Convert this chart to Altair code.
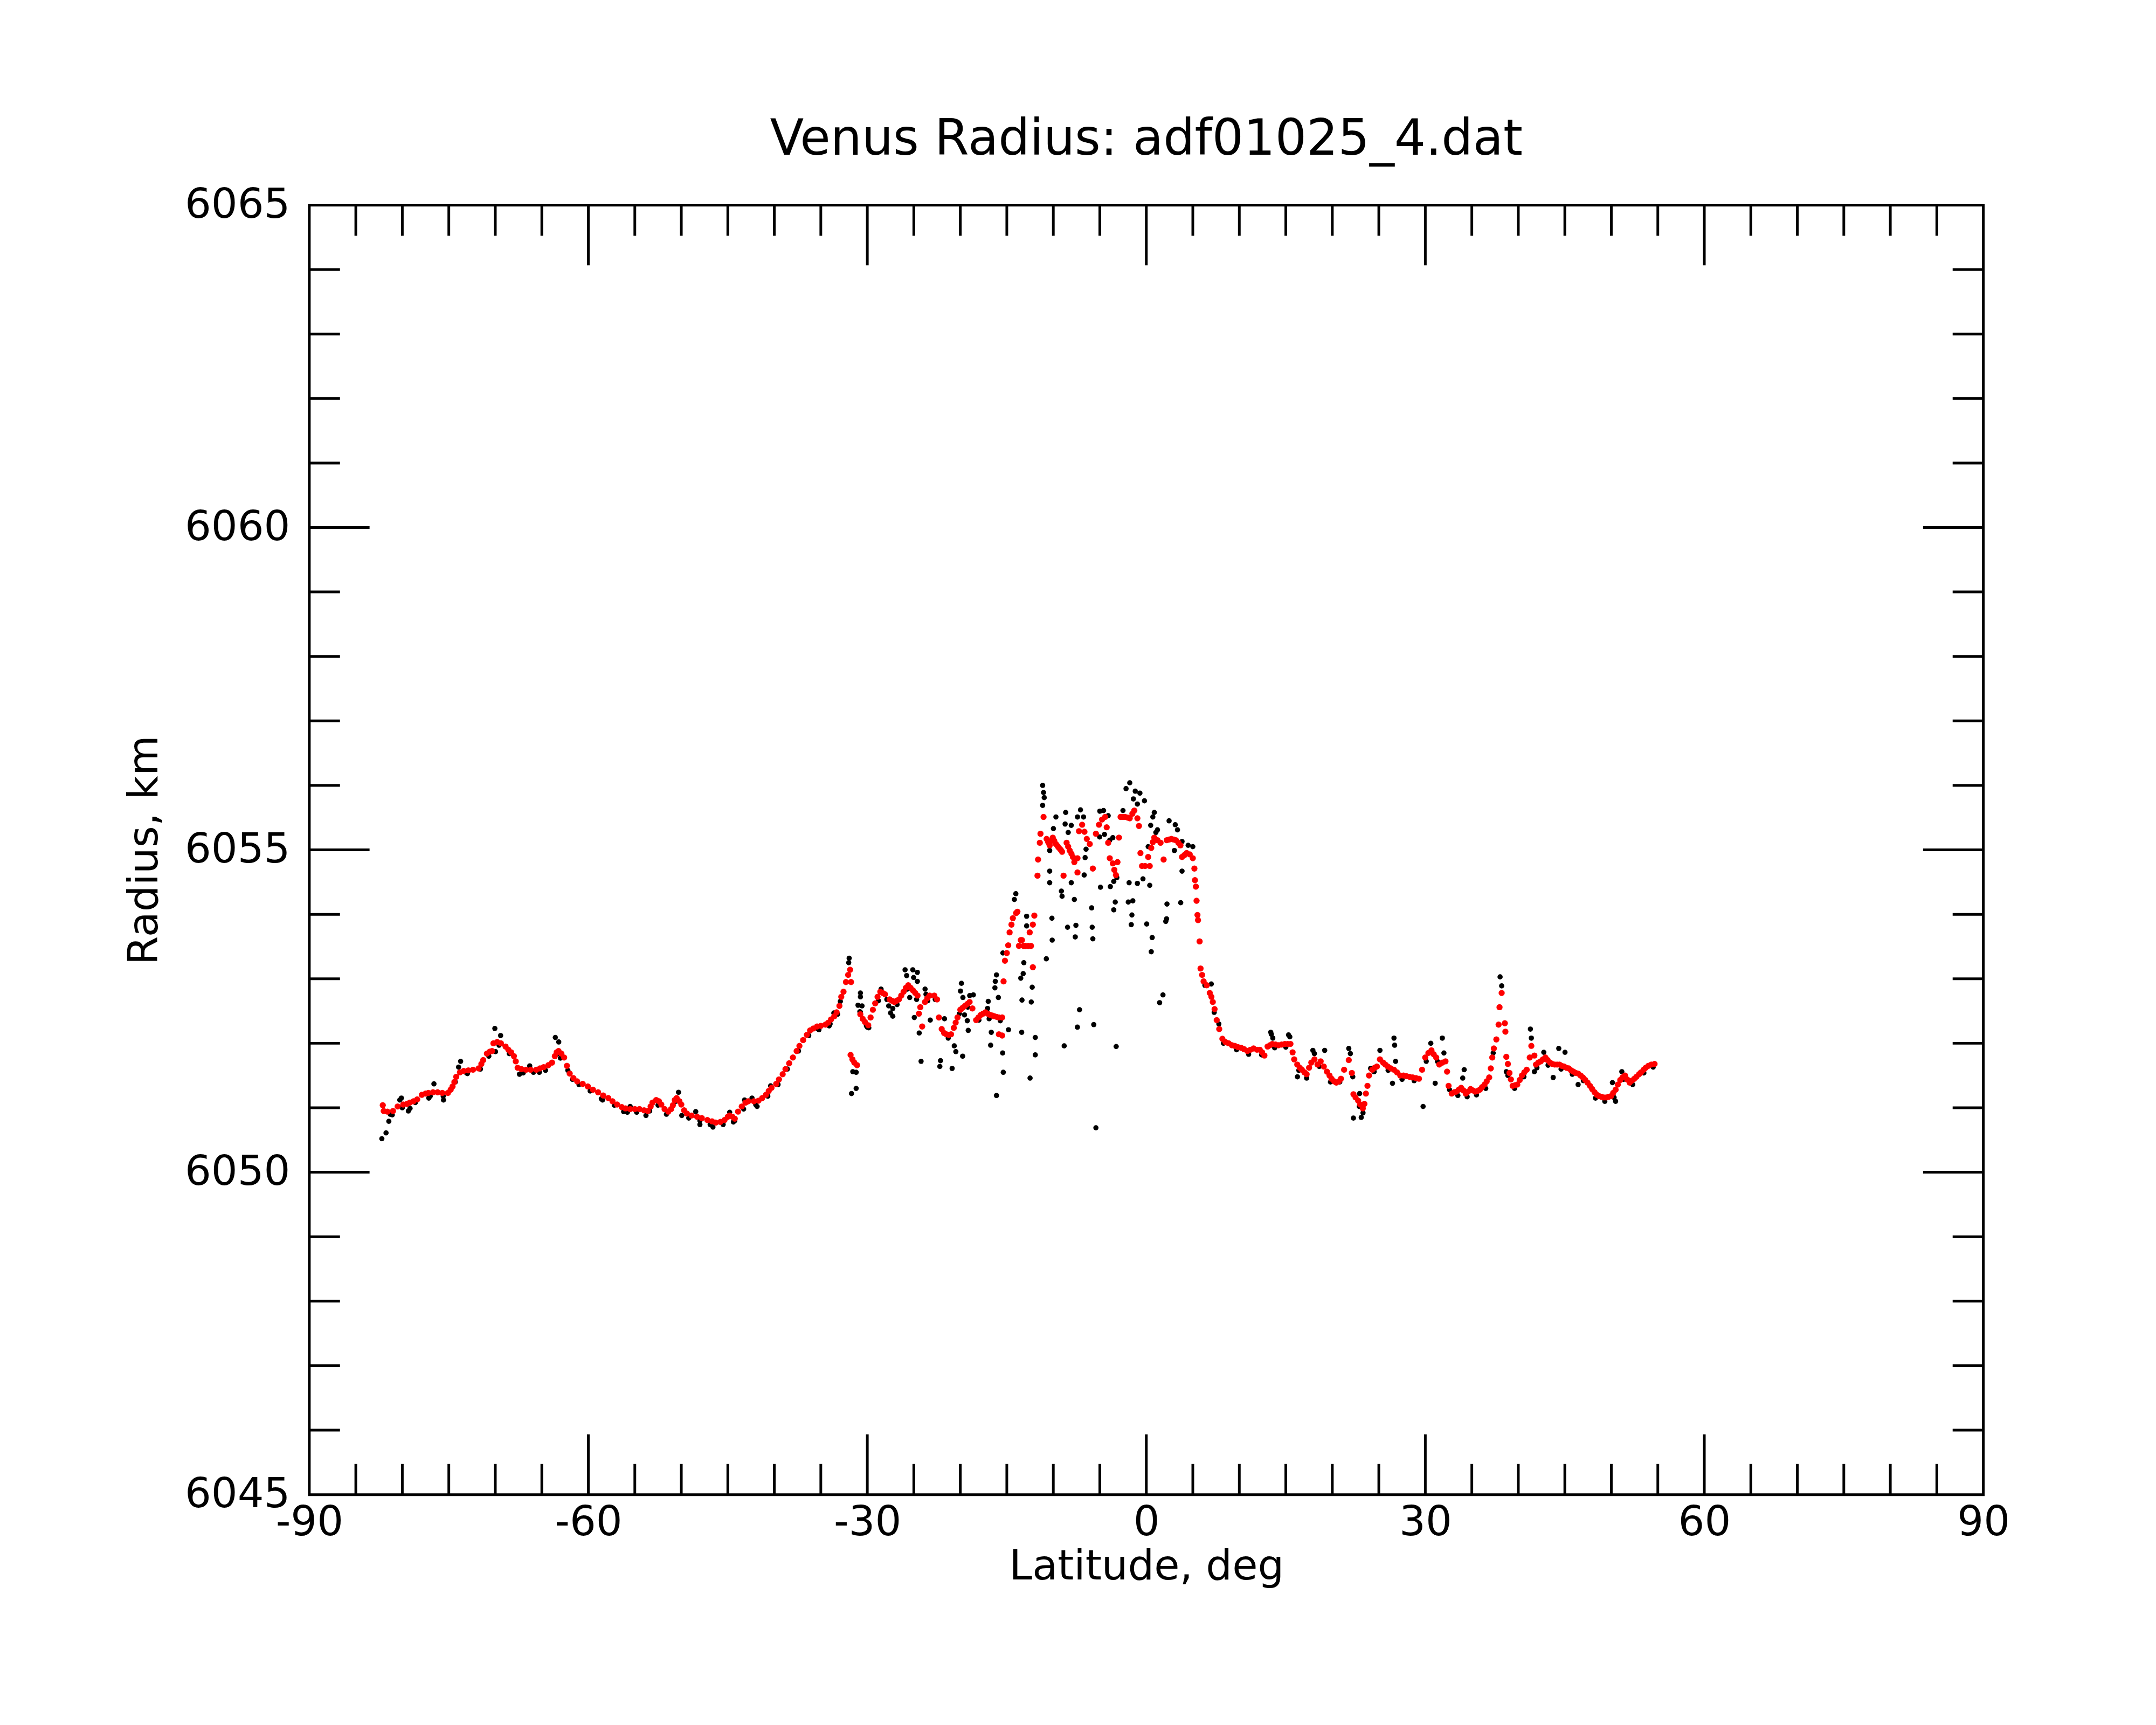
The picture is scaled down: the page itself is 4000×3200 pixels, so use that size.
import altair as alt
import pandas as pd

# ---------------- data ----------------
# filtered radius (red), latitude in deg, radius in km
red_south = [
    (-82.1, 6051.04), (-82.0, 6050.95), (-81.6, 6050.94), (-81.0, 6050.95), (-80.5, 6051.02),
    (-79.9, 6051.05), (-79.5, 6051.06), (-79.2, 6051.08), (-78.8, 6051.10), (-78.4, 6051.13),
    (-77.9, 6051.20), (-77.5, 6051.22), (-77.2, 6051.23), (-76.7, 6051.24), (-76.2, 6051.24),
    (-75.7, 6051.23), (-75.1, 6051.23), (-74.8, 6051.28), (-74.6, 6051.33), (-74.4, 6051.40),
    (-74.2, 6051.48), (-73.8, 6051.55), (-73.4, 6051.57), (-72.9, 6051.58), (-72.4, 6051.59),
    (-71.8, 6051.61), (-71.5, 6051.68), (-71.3, 6051.74), (-70.9, 6051.84), (-70.6, 6051.87),
    (-70.35, 6051.88), (-70.2, 6052.00), (-69.8, 6052.02), (-69.4, 6052.00), (-68.9, 6051.95),
    (-68.6, 6051.90), (-68.3, 6051.86), (-68.0, 6051.80), (-67.8, 6051.72), (-67.6, 6051.62),
    (-67.2, 6051.60), (-66.7, 6051.59), (-66.2, 6051.59), (-65.6, 6051.59), (-65.2, 6051.61),
    (-64.8, 6051.63), (-64.3, 6051.66), (-63.9, 6051.70), (-63.6, 6051.80), (-63.4, 6051.86),
    (-63.2, 6051.88), (-62.9, 6051.84), (-62.6, 6051.78), (-62.3, 6051.65), (-62.0, 6051.53),
    (-61.6, 6051.46), (-61.2, 6051.41), (-60.6, 6051.37), (-60.05, 6051.33), (-59.5, 6051.28),
    (-58.95, 6051.24), (-58.4, 6051.19), (-57.85, 6051.15), (-57.4, 6051.10), (-56.9, 6051.05),
    (-56.4, 6051.01), (-56.0, 6050.99), (-55.5, 6050.98), (-55.0, 6050.98), (-54.5, 6050.98),
    (-54.0, 6050.96), (-53.6, 6050.95), (-53.3, 6051.02), (-53.1, 6051.08), (-52.7, 6051.12),
    (-52.4, 6051.10), (-52.15, 6051.05), (-51.8, 6050.98), (-51.4, 6050.94), (-51.1, 6050.98),
    (-50.9, 6051.04), (-50.7, 6051.12), (-50.5, 6051.15), (-50.2, 6051.10), (-50.0, 6051.05),
    (-49.7, 6050.96), (-49.4, 6050.91), (-48.9, 6050.88), (-48.3, 6050.86), (-47.8, 6050.84),
    (-47.2, 6050.81), (-46.7, 6050.79), (-46.3, 6050.77), (-45.8, 6050.78), (-45.35, 6050.81),
    (-45.0, 6050.86), (-44.8, 6050.88), (-44.5, 6050.86), (-44.25, 6050.83), (-43.9, 6050.94),
    (-43.5, 6051.02), (-43.1, 6051.08), (-42.8, 6051.10), (-42.2, 6051.10), (-41.7, 6051.11),
    (-41.3, 6051.15), (-40.9, 6051.20), (-40.6, 6051.26), (-40.3, 6051.31), (-39.8, 6051.37),
    (-39.5, 6051.44), (-39.1, 6051.52), (-38.8, 6051.60), (-38.4, 6051.69), (-38.0, 6051.78),
    (-37.6, 6051.88), (-37.3, 6051.96), (-36.9, 6052.05), (-36.5, 6052.13), (-36.15, 6052.20),
    (-35.8, 6052.23), (-35.4, 6052.26), (-35.0, 6052.27), (-34.5, 6052.29), (-34.2, 6052.32),
    (-33.9, 6052.37), (-33.55, 6052.42), (-33.3, 6052.48), (-33.0, 6052.58), (-32.8, 6052.72),
    (-32.56, 6052.80), (-32.3, 6052.95), (-32.06, 6053.06), (-31.85, 6053.14), (-31.75, 6052.95),
    (-31.8, 6051.82), (-31.6, 6051.75), (-31.4, 6051.70), (-31.1, 6051.66),
]

red_equator = [
    (-30.75, 6052.45), (-30.5, 6052.38), (-30.25, 6052.33), (-29.9, 6052.28), (-29.65, 6052.40),
    (-29.4, 6052.52), (-29.15, 6052.62), (-28.9, 6052.72), (-28.6, 6052.80), (-28.35, 6052.78),
    (-28.1, 6052.76), (-27.6, 6052.68), (-27.35, 6052.66), (-27.1, 6052.64), (-26.85, 6052.66),
    (-26.6, 6052.68), (-26.35, 6052.74), (-26.1, 6052.80), (-25.85, 6052.86), (-25.6, 6052.90),
    (-25.35, 6052.86), (-25.1, 6052.82), (-24.85, 6052.78), (-24.6, 6052.74), (-24.45, 6052.46),
    (-24.3, 6052.56), (-24.1, 6052.26), (-23.8, 6052.64), (-23.55, 6052.70), (-23.3, 6052.74),
    (-22.8, 6052.74), (-22.5, 6052.68), (-22.3, 6052.40), (-22.0, 6052.22), (-21.75, 6052.16),
    (-21.5, 6052.14), (-21.25, 6052.13), (-21.0, 6052.14), (-20.7, 6052.24), (-20.5, 6052.32),
    (-20.3, 6052.40), (-20.0, 6052.52), (-19.75, 6052.55), (-19.5, 6052.58), (-19.25, 6052.61),
    (-19.0, 6052.64), (-18.7, 6052.54), (-18.3, 6052.36), (-18.05, 6052.40), (-17.8, 6052.44),
    (-17.55, 6052.46), (-17.3, 6052.48), (-17.05, 6052.46), (-16.8, 6052.44), (-16.55, 6052.43),
    (-16.35, 6052.42), (-16.1, 6052.41), (-15.85, 6052.40), (-15.5, 6052.40), (-15.85, 6052.14),
    (-15.5, 6052.12), (-15.35, 6052.96), (-15.2, 6053.28), (-15.0, 6053.40), (-14.85, 6053.52),
    (-14.7, 6053.72), (-14.5, 6053.84), (-14.35, 6053.94), (-14.0, 6054.02), (-13.86, 6054.04),
    (-13.7, 6053.51), (-13.5, 6053.60), (-13.37, 6053.60), (-13.2, 6053.51), (-13.0, 6053.51),
    (-12.7, 6053.51), (-12.54, 6053.72), (-12.4, 6053.51), (-12.2, 6053.84), (-12.04, 6053.98),
    (-12.2, 6053.18), (-11.7, 6054.60), (-11.64, 6054.85), (-11.45, 6055.11), (-11.38, 6055.25),
    (-11.05, 6055.51), (-10.72, 6055.17), (-10.55, 6055.12), (-10.39, 6055.07), (-10.2, 6055.14),
    (-10.06, 6055.19), (-9.9, 6055.14), (-9.72, 6055.09), (-9.55, 6055.06), (-9.39, 6055.03),
    (-9.2, 6055.00), (-9.06, 6054.97), (-8.9, 6054.60), (-8.57, 6055.11), (-8.4, 6055.05),
    (-8.24, 6054.99), (-8.05, 6054.94), (-7.9, 6054.89), (-7.74, 6054.81), (-7.4, 6054.65),
    (-7.4, 6054.87), (-7.24, 6055.29), (-6.9, 6055.39), (-6.65, 6055.28), (-6.4, 6055.17),
    (-6.08, 6055.09), (-5.75, 6054.71), (-5.42, 6055.25), (-5.09, 6055.39), (-4.76, 6055.47),
    (-4.43, 6055.51), (-4.26, 6055.35), (-4.1, 6055.11), (-3.93, 6054.87), (-3.6, 6054.79),
    (-3.44, 6054.69), (-3.27, 6054.61), (-3.1, 6054.81), (-2.94, 6055.19), (-2.77, 6055.51),
    (-2.5, 6055.51), (-2.28, 6055.51), (-2.0, 6055.50), (-1.78, 6055.49), (-1.5, 6055.56),
    (-1.29, 6055.61), (-0.96, 6055.49), (-0.79, 6055.37), (-0.63, 6054.95), (-0.46, 6054.75),
    (-0.13, 6054.75), (0.2, 6054.89), (0.37, 6054.75), (0.53, 6055.03), (0.7, 6055.12),
    (0.86, 6055.19), (1.2, 6055.15), (1.53, 6055.11), (1.86, 6054.85), (2.2, 6055.15),
    (2.45, 6055.16), (2.68, 6055.17), (2.95, 6055.16), (3.18, 6055.15), (3.45, 6055.11),
    (3.67, 6055.07), (3.84, 6054.89), (4.1, 6054.92), (4.34, 6054.95), (4.67, 6054.93),
    (5.0, 6054.87), (5.17, 6054.71), (5.23, 6054.53), (5.33, 6054.43), (5.4, 6054.21),
    (5.5, 6053.99), (5.56, 6053.91), (5.73, 6053.58), (5.83, 6053.16), (6.0, 6053.06),
    (6.16, 6052.96),
]

red_north = [
    (6.5, 6052.90), (6.82, 6052.78), (7.0, 6052.72), (7.15, 6052.64), (7.34, 6052.53),
    (7.57, 6052.36), (7.84, 6052.22), (8.18, 6052.07), (8.5, 6052.02), (8.85, 6052.00),
    (9.2, 6051.97), (9.52, 6051.96), (9.85, 6051.94), (10.19, 6051.93), (10.5, 6051.91),
    (10.86, 6051.88), (11.2, 6051.90), (11.53, 6051.92), (11.9, 6051.90), (12.2, 6051.90),
    (12.45, 6051.86), (12.7, 6051.81), (13.04, 6051.95), (13.3, 6051.97), (13.55, 6051.99),
    (13.9, 6051.98), (14.22, 6051.97), (14.55, 6051.98), (14.9, 6051.99), (15.2, 6051.99),
    (15.5, 6051.99), (15.73, 6051.86), (15.9, 6051.75), (16.23, 6051.67), (16.5, 6051.62),
    (16.73, 6051.59), (17.0, 6051.55), (17.24, 6051.52), (17.5, 6051.62), (17.74, 6051.70),
    (18.08, 6051.75), (18.41, 6051.67), (18.75, 6051.72), (19.08, 6051.64), (19.42, 6051.56),
    (19.7, 6051.50), (19.92, 6051.45), (20.2, 6051.41), (20.43, 6051.39), (20.7, 6051.41),
    (20.93, 6051.45), (21.27, 6051.59), (21.77, 6051.74), (22.1, 6051.54), (22.27, 6051.21),
    (22.5, 6051.16), (22.78, 6051.11), (23.0, 6051.05), (23.28, 6050.99), (23.45, 6051.06),
    (23.61, 6051.22), (23.78, 6051.34), (23.95, 6051.50), (24.29, 6051.59), (24.55, 6051.62),
    (24.79, 6051.64), (25.12, 6051.75), (25.46, 6051.70), (25.7, 6051.67), (25.96, 6051.64),
    (26.3, 6051.61), (26.63, 6051.59), (26.95, 6051.55), (27.31, 6051.50), (27.65, 6051.50),
    (27.98, 6051.49), (28.3, 6051.48), (28.65, 6051.47), (29.0, 6051.46), (29.32, 6051.45),
    (29.65, 6051.59), (29.99, 6051.78), (30.33, 6051.85), (30.66, 6051.89), (30.9, 6051.83),
    (31.17, 6051.78), (31.5, 6051.67), (31.83, 6051.70), (32.17, 6051.72), (32.34, 6051.56),
    (32.5, 6051.34), (32.84, 6051.22), (33.1, 6051.24), (33.34, 6051.25), (33.6, 6051.28),
    (33.85, 6051.31), (34.1, 6051.27), (34.35, 6051.22), (34.6, 6051.25), (34.86, 6051.29),
    (35.1, 6051.27), (35.36, 6051.25), (35.6, 6051.26), (35.86, 6051.28), (36.1, 6051.32),
    (36.37, 6051.36), (36.6, 6051.41), (36.87, 6051.47), (37.04, 6051.61), (37.2, 6051.78),
    (37.37, 6051.92), (37.64, 6052.06), (37.88, 6052.29), (37.98, 6052.56), (38.21, 6052.78),
    (38.55, 6052.31), (38.61, 6052.18), (38.71, 6051.79), (38.88, 6051.68), (39.05, 6051.54),
    (39.2, 6051.44), (39.39, 6051.34), (39.65, 6051.35), (39.89, 6051.36), (40.15, 6051.43),
    (40.39, 6051.50), (40.65, 6051.55), (40.9, 6051.59), (41.23, 6051.78), (41.4, 6051.96),
    (41.73, 6051.81), (41.9, 6051.67), (42.15, 6051.70), (42.41, 6051.72), (42.65, 6051.75),
    (42.91, 6051.78), (43.15, 6051.74), (43.41, 6051.70), (43.65, 6051.68), (43.92, 6051.67),
    (44.17, 6051.67), (44.42, 6051.67), (44.67, 6051.65), (44.92, 6051.64), (45.17, 6051.62),
    (45.43, 6051.61), (45.68, 6051.58), (45.93, 6051.56), (46.18, 6051.54), (46.43, 6051.53),
    (46.7, 6051.50), (46.94, 6051.47), (47.2, 6051.43), (47.44, 6051.39), (47.7, 6051.34),
    (47.94, 6051.29), (48.2, 6051.24), (48.45, 6051.20), (48.7, 6051.18), (48.95, 6051.17),
    (49.2, 6051.16), (49.45, 6051.16), (49.7, 6051.17), (49.96, 6051.18), (50.2, 6051.23),
    (50.46, 6051.28), (50.7, 6051.36), (50.96, 6051.43), (51.2, 6051.47), (51.47, 6051.50),
    (51.7, 6051.44), (51.97, 6051.39), (52.2, 6051.42), (52.47, 6051.45), (52.7, 6051.48),
    (52.98, 6051.52), (53.2, 6051.55), (53.48, 6051.59), (53.7, 6051.62), (53.98, 6051.65),
    (54.3, 6051.67), (54.65, 6051.68),
]

# raw radius (black): points showing under the red track
black_track = [
    (-81.3, 6050.90), (-80.0, 6051.00), (-78.6, 6051.08), (-77.0, 6051.18), (-75.6, 6051.18),
    (-74.3, 6051.40), (-73.0, 6051.53), (-71.6, 6051.60), (-70.7, 6051.80), (-69.6, 6051.97),
    (-68.5, 6051.84), (-67.0, 6051.54), (-65.9, 6051.55), (-64.6, 6051.58), (-63.3, 6051.84),
    (-62.2, 6051.58), (-61.0, 6051.36), (-59.8, 6051.26), (-58.6, 6051.14), (-57.2, 6051.04),
    (-55.8, 6050.93), (-54.8, 6050.93), (-53.4, 6050.95), (-52.5, 6051.04), (-51.6, 6050.90),
    (-50.6, 6051.10), (-49.2, 6050.84), (-48.0, 6050.80), (-46.9, 6050.74), (-45.5, 6050.74),
    (-44.4, 6050.78), (-43.3, 6050.98), (-42.0, 6051.05), (-40.7, 6051.18), (-39.6, 6051.36),
    (-38.6, 6051.60), (-37.4, 6051.88), (-36.3, 6052.12), (-35.2, 6052.21), (-34.0, 6052.30),
    (-33.2, 6052.45), (-32.9, 6052.65), (-32.0, 6053.25), (-31.95, 6053.32), (-30.0, 6052.25),
    (-28.8, 6052.66), (-27.9, 6052.68), (-26.8, 6052.60), (-25.7, 6052.84), (-24.7, 6052.68),
    (-23.5, 6052.66), (-22.7, 6052.68), (-21.3, 6052.08), (-20.1, 6052.46), (-19.2, 6052.56),
    (-18.0, 6052.36), (-16.9, 6052.38), (-15.7, 6052.35), (6.3, 6052.90), (7.3, 6052.48),
    (8.3, 6052.00), (9.7, 6051.90), (11.0, 6051.83), (12.4, 6051.82), (13.8, 6051.93),
    (15.0, 6051.94), (16.4, 6051.58), (18.6, 6051.64), (19.8, 6051.40), (20.8, 6051.40),
    (22.2, 6051.48), (22.9, 6051.02), (23.3, 6050.92), (24.5, 6051.56), (26.0, 6051.58),
    (27.5, 6051.44), (28.8, 6051.42), (30.1, 6051.72), (31.3, 6051.72), (32.6, 6051.28),
    (33.5, 6051.19), (34.5, 6051.17), (35.5, 6051.20), (36.5, 6051.30), (37.3, 6051.85),
    (39.6, 6051.30), (40.6, 6051.48), (42.0, 6051.62), (43.2, 6051.66), (44.6, 6051.60),
    (45.8, 6051.52), (47.0, 6051.42), (48.3, 6051.15), (49.3, 6051.10), (50.3, 6051.16),
    (51.3, 6051.44), (52.3, 6051.36), (53.5, 6051.54), (54.5, 6051.63),
]

# raw radius (black): scattered points away from the red track
black_scatter = [
    (-82.2, 6050.52), (-81.75, 6050.61), (-81.45, 6050.79), (-81.08, 6050.89), (-80.27, 6051.12),
    (-80.1, 6051.15), (-79.35, 6050.95), (-79.17, 6050.99), (-76.6, 6051.37), (-77.15, 6051.15),
    (-75.57, 6051.12), (-73.73, 6051.72), (-73.95, 6051.63), (-73.1, 6051.54), (-70.05, 6052.23),
    (-69.43, 6052.12), (-69.98, 6051.87), (-67.4, 6051.52), (-66.3, 6051.65), (-65.27, 6051.55),
    (-63.55, 6052.09), (-63.18, 6052.02), (-63.0, 6051.77), (-61.7, 6051.44), (-58.47, 6051.12),
    (-56.2, 6050.94), (-55.5, 6051.02), (-53.8, 6050.88), (-50.3, 6051.24), (-49.95, 6050.88),
    (-48.45, 6050.94), (-48.0, 6050.74), (-46.6, 6050.70), (-44.8, 6050.93), (-44.25, 6050.80),
    (-43.2, 6051.12), (-42.4, 6051.15), (-41.85, 6051.02), (-40.4, 6051.34), (-35.35, 6052.23),
    (-34.1, 6052.27), (-33.6, 6052.47), (-31.56, 6051.56), (-31.2, 6051.55), (-31.7, 6051.22),
    (-31.2, 6051.30), (-31.0, 6052.59), (-30.8, 6052.49), (-30.1, 6052.27), (-27.7, 6052.58),
    (-27.5, 6052.47),
    (-11.15, 6056.00), (-11.05, 6055.89), (-10.98, 6055.81), (-11.15, 6055.69), (-9.72, 6055.51),
    (-8.67, 6055.58), (-7.08, 6055.62), (-8.73, 6055.40), (-8.07, 6055.38), (-9.99, 6055.33),
    (-8.40, 6055.27), (-7.40, 6055.51), (-6.75, 6055.51), (-5.00, 6055.60), (-4.60, 6055.61),
    (-4.10, 6055.53), (-2.18, 6055.95), (-1.78, 6056.04), (-1.19, 6055.91), (-0.69, 6055.88),
    (-1.39, 6055.79), (-0.20, 6055.76), (-0.96, 6055.71), (-2.51, 6055.61), (0.86, 6055.58),
    (0.70, 6055.51), (0.47, 6055.38), (2.45, 6055.45), (3.11, 6055.39), (3.35, 6055.31),
    (1.20, 6055.31), (0.20, 6055.05), (1.03, 6055.27), (3.84, 6055.13), (4.50, 6055.07),
    (5.00, 6055.05), (-6.48, 6055.01), (-6.58, 6054.88), (-5.02, 6055.20), (-4.50, 6055.24),
    (-3.60, 6055.19), (-3.93, 6055.15), (-10.39, 6054.99), (3.02, 6054.99), (3.84, 6054.67),
    (-10.39, 6054.67), (-6.68, 6054.61), (-10.39, 6054.49), (-8.07, 6054.49), (-4.93, 6054.42),
    (-3.87, 6054.43), (-3.50, 6054.51), (-3.17, 6054.57), (-1.85, 6054.49), (-0.96, 6054.48),
    (-0.36, 6054.55), (0.37, 6054.45), (-9.13, 6054.36), (-9.06, 6054.28), (-7.74, 6054.23),
    (-5.88, 6054.10), (-3.34, 6054.19), (-1.94, 6054.19), (-1.45, 6054.21), (2.22, 6054.16),
    (3.70, 6054.18), (-1.55, 6053.99), (5.43, 6054.21), (-10.15, 6053.94), (-3.50, 6054.07),
    (2.18, 6053.93), (2.09, 6053.89), (-8.47, 6053.80), (-7.57, 6053.83), (-5.82, 6053.80),
    (-1.62, 6053.84), (0.04, 6053.85), (-10.12, 6053.60), (-7.64, 6053.65), (-5.75, 6053.62),
    (0.63, 6053.64), (0.53, 6053.42), (-10.75, 6053.31), (-13.17, 6053.25), (-13.24, 6053.08),
    (-13.50, 6053.01), (-14.03, 6054.32), (-14.19, 6054.23), (-15.42, 6053.40), (-16.11, 6053.06),
    (-16.24, 6052.96), (-16.28, 6052.86), (-15.91, 6052.71), (-13.37, 6052.67), (-12.37, 6052.64),
    (-12.27, 6052.87), (-12.87, 6053.97), (-12.87, 6053.82), (1.79, 6052.75), (1.43, 6052.63),
    (-7.18, 6052.52), (-7.41, 6052.25), (-5.65, 6052.29), (-8.83, 6051.96), (-3.24, 6051.95),
    (-5.42, 6050.69), (-16.11, 6051.19), (-15.38, 6051.55), (-15.45, 6051.85), (-12.50, 6051.46),
    (-11.94, 6051.82), (-11.94, 6052.09), (-13.40, 6052.17), (-14.82, 6052.21), (-16.67, 6052.17),
    (-16.74, 6051.97), (-19.75, 6051.80), (-20.65, 6051.96), (-20.48, 6051.87), (-20.88, 6051.61),
    (-22.13, 6051.73), (-22.20, 6051.64), (-24.22, 6051.72), (-24.42, 6052.16), (-24.95, 6052.40),
    (-23.23, 6052.36), (-25.94, 6053.14), (-25.11, 6053.14), (-24.62, 6053.10), (-25.77, 6053.05),
    (-25.02, 6053.02), (-24.62, 6052.96), (-28.52, 6052.84), (-30.74, 6052.78), (-30.74, 6052.72),
    (-30.57, 6052.58), (-30.74, 6052.48), (-29.84, 6052.24), (-27.26, 6052.54), (-27.26, 6052.42),
    (-25.44, 6052.71), (-25.44, 6052.86), (-23.79, 6052.84), (-23.69, 6052.76), (-19.88, 6052.93),
    (-19.98, 6052.81), (-19.72, 6052.71), (-18.99, 6052.74), (-18.60, 6052.75), (-17.00, 6052.65),
    (-17.07, 6052.54), (-19.25, 6052.35), (-19.15, 6052.20), (-19.55, 6052.44), (-21.70, 6052.38),
    (6.99, 6052.92), (7.80, 6052.30), (13.44, 6052.14), (13.60, 6052.08), (15.43, 6052.10),
    (16.25, 6051.48), (17.24, 6051.46), (18.07, 6051.84),
    (13.38, 6052.17), (15.29, 6052.13), (17.91, 6051.89), (19.18, 6051.89), (21.77, 6051.92),
    (21.94, 6051.84), (22.27, 6050.84), (23.11, 6050.85), (22.94, 6051.22), (26.63, 6052.08),
    (26.70, 6051.97), (25.12, 6051.89), (26.80, 6051.72), (26.47, 6051.38), (24.12, 6051.61),
    (29.76, 6051.02), (30.59, 6052.00), (31.83, 6052.08), (32.00, 6051.85), (31.06, 6051.38),
    (34.18, 6051.59), (34.02, 6051.46), (38.04, 6053.03), (38.21, 6052.89), (41.30, 6052.22),
    (41.40, 6052.08), (42.74, 6051.86), (44.35, 6051.92), (45.02, 6051.86), (43.75, 6051.47),
    (46.43, 6051.36), (50.12, 6051.39), (50.46, 6051.10), (51.13, 6051.56), (41.73, 6051.56),
    (38.71, 6051.56), (38.88, 6051.50),
]

x_label_values = [-90, -60, -30, 0, 30, 60, 90]
x_major_ticks = [-60, -30, 0, 30, 60]
x_minor_ticks = [-85, -80, -75, -70, -65, -55, -50, -45, -40, -35, -25, -20, -15, -10, -5,
                 5, 10, 15, 20, 25, 35, 40, 45, 50, 55, 65, 70, 75, 80, 85]
y_label_values = [6045, 6050, 6055, 6060, 6065]
y_major_ticks = [6050, 6055, 6060]
y_minor_ticks = [6046, 6047, 6048, 6049, 6051, 6052, 6053, 6054, 6056, 6057, 6058, 6059,
                 6061, 6062, 6063, 6064]

TITLE = "Venus Radius: adf01025_4.dat"
X_TITLE = "Latitude, deg"
Y_TITLE = "Radius, km"

# ---------------- layout / style ----------------
W, H = 3112, 2397
FONT = "DejaVu Sans"
FS = 77
MAJOR_LEN, MINOR_LEN, TICK_W = 112, 57, 5

red_df = pd.DataFrame(red_south + red_equator + red_north, columns=["lat", "radius"])
black_df = pd.DataFrame(black_track + black_scatter, columns=["lat", "radius"])

xscale = alt.Scale(domain=[-90, 90], nice=False, zero=False)
yscale = alt.Scale(domain=[6045, 6065], nice=False, zero=False)

x_axis = alt.Axis(
    values=x_label_values, ticks=False, tickSize=0, domain=False, grid=False,
    labelExpr="'' + datum.value", labelLimit=0,
    labelFont=FONT, labelFontSize=FS, labelColor="black", labelPadding=14,
    labelFlush=False, labelOverlap=False,
    title=X_TITLE, titleFont=FONT, titleFontSize=FS, titleFontWeight="normal",
    titleColor="black", titleBaseline="alphabetic", titleX=W / 2, titleY=157)
y_axis = alt.Axis(
    values=y_label_values, ticks=False, tickSize=0, domain=False, grid=False,
    labelExpr="'' + datum.value", labelLimit=0,
    labelFont=FONT, labelFontSize=FS, labelColor="black", labelPadding=36,
    labelFlush=False, labelOverlap=False,
    title=Y_TITLE, titleFont=FONT, titleFontSize=FS, titleFontWeight="normal",
    titleColor="black", titleBaseline="alphabetic", titleX=-283, titleY=H / 2)

x_enc = alt.X("lat:Q", scale=xscale, axis=x_axis)
y_enc = alt.Y("radius:Q", scale=yscale, axis=y_axis)

black_pts = alt.Chart(black_df).mark_circle(color="black", size=95, opacity=1).encode(
    x=x_enc, y=y_enc)
red_pts = alt.Chart(red_df).mark_circle(color="#ff0000", size=130, opacity=1).encode(
    x=x_enc, y=y_enc)


def xticks(values, length):
    df = pd.DataFrame({"t": values})
    xe = alt.X("t:Q", scale=xscale, axis=x_axis)
    bottom = alt.Chart(df).mark_rule(color="black", strokeWidth=TICK_W).encode(
        x=xe, y=alt.value(H), y2=alt.value(H - length))
    top = alt.Chart(df).mark_rule(color="black", strokeWidth=TICK_W).encode(
        x=xe, y=alt.value(0), y2=alt.value(length))
    return [bottom, top]


def yticks(values, length):
    df = pd.DataFrame({"t": values})
    ye = alt.Y("t:Q", scale=yscale, axis=y_axis)
    left = alt.Chart(df).mark_rule(color="black", strokeWidth=TICK_W).encode(
        y=ye, x=alt.value(0), x2=alt.value(length))
    right = alt.Chart(df).mark_rule(color="black", strokeWidth=TICK_W).encode(
        y=ye, x=alt.value(W), x2=alt.value(W - length))
    return [left, right]


layers = ([black_pts, red_pts]
          + xticks(x_major_ticks, MAJOR_LEN) + xticks(x_minor_ticks, MINOR_LEN)
          + yticks(y_major_ticks, MAJOR_LEN) + yticks(y_minor_ticks, MINOR_LEN))

chart = alt.layer(*layers).properties(
    width=W, height=H,
    title=alt.TitleParams(TITLE, font=FONT, fontSize=92, fontWeight="normal",
                          color="black", anchor="middle", baseline="alphabetic",
                          offset=-37),
    autosize=alt.AutoSizeParams(type="none"),
    padding={"left": 567, "top": 370, "right": 313, "bottom": 417},
    background="white",
).configure_view(stroke="black", strokeWidth=5, fill="white")

chart.save("out.html", embed_options={"renderer": "svg", "actions": False})
